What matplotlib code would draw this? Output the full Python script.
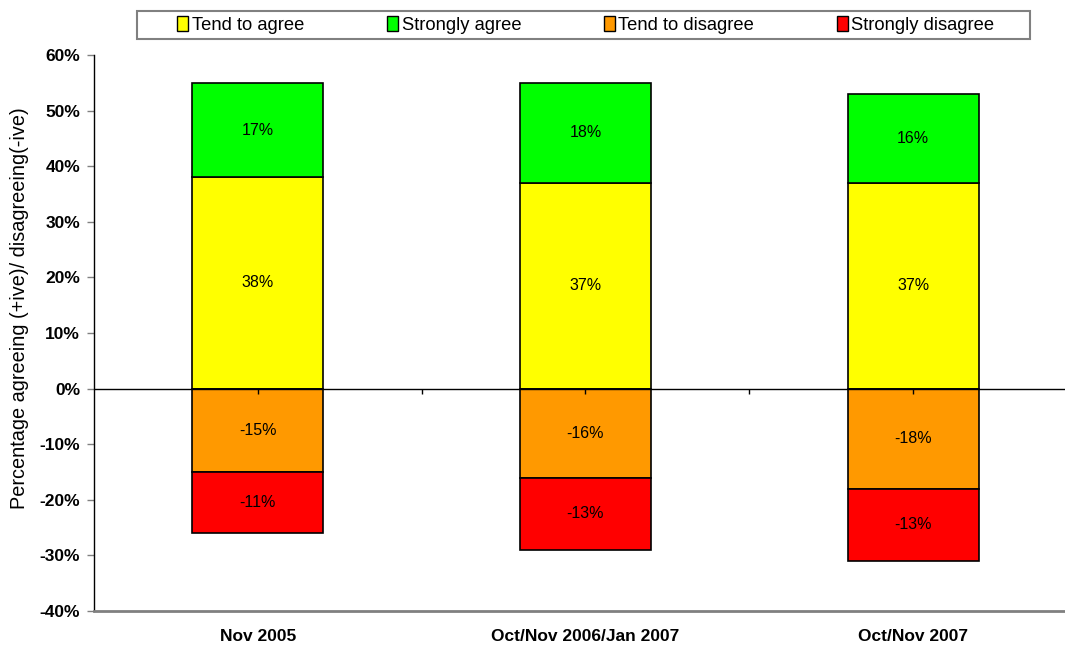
import matplotlib
matplotlib.use("Agg")
import matplotlib.pyplot as plt
from matplotlib.patches import Patch, Rectangle
from matplotlib.ticker import FuncFormatter
import numpy as np

plt.rcParams["font.family"] = ["Liberation Sans", "DejaVu Sans"]

# Survey waves and the share of respondents in each answer group
categories = ["Nov 2005", "Oct/Nov 2006/Jan 2007", "Oct/Nov 2007"]
tend_to_agree = [38, 37, 37]
strongly_agree = [17, 18, 16]
tend_to_disagree = [-15, -16, -18]
strongly_disagree = [-11, -13, -13]
y_ticks = [-40, -30, -20, -10, 0, 10, 20, 30, 40, 50, 60]

colors = {
    "Tend to agree": "#FFFF00",
    "Strongly agree": "#00FF00",
    "Tend to disagree": "#FF9900",
    "Strongly disagree": "#FF0000",
}

W, H = 1065, 646
fig = plt.figure(figsize=(W / 100, H / 100), dpi=100)
ax = fig.add_axes([94 / W, 1 - 611 / H, (W - 94) / W, (611 - 55) / H])

x = np.arange(len(categories))
bw = 0.4
edge = dict(edgecolor="black", linewidth=1.2)

ta = np.array(tend_to_agree)
sa = np.array(strongly_agree)
td = np.array(tend_to_disagree)
sd = np.array(strongly_disagree)

ax.bar(x, ta, bw, color=colors["Tend to agree"], **edge, zorder=2)
ax.bar(x, sa, bw, bottom=ta, color=colors["Strongly agree"], **edge, zorder=2)
ax.bar(x, td, bw, color=colors["Tend to disagree"], **edge, zorder=2)
ax.bar(x, sd, bw, bottom=td, color=colors["Strongly disagree"], **edge, zorder=2)

# Value labels in the middle of each segment
lab_kw = dict(ha="center", va="center", fontsize=11.5, color="black", zorder=4)
for i in range(len(categories)):
    ax.text(x[i], ta[i] / 2, f"{ta[i]}%", **lab_kw)
    ax.text(x[i], ta[i] + sa[i] / 2, f"{sa[i]}%", **lab_kw)
    ax.text(x[i], td[i] / 2, f"{td[i]}%", **lab_kw)
    ax.text(x[i], td[i] + sd[i] / 2, f"{sd[i]}%", **lab_kw)

# Zero line with small category ticks hanging below it
ax.axhline(0, color="black", linewidth=1.0, zorder=3)
tick_pos = np.arange(0, len(categories) - 0.5 + 0.01, 0.5)
ax.vlines(tick_pos, -0.9, 0, color="black", linewidth=1.0, zorder=3)

ax.set_xlim(-0.5, 2.5 - 12 / 327.75)
ax.set_ylim(-40, 60)
ax.set_yticks(y_ticks)
ax.yaxis.set_major_formatter(FuncFormatter(lambda v, p: f"{int(v)}%"))
ax.set_xticks(x)
ax.set_xticklabels(categories, fontweight="bold", fontsize=12.5)
ax.tick_params(axis="x", length=0, pad=13)
ax.tick_params(axis="y", length=5, width=1, color="#808080", pad=5, labelsize=12.5)
for lbl in ax.get_yticklabels():
    lbl.set_fontweight("bold")

for s in ["top", "right"]:
    ax.spines[s].set_visible(False)
ax.spines["left"].set_color("black")
ax.spines["left"].set_linewidth(1.0)
ax.spines["bottom"].set_color("#808080")
ax.spines["bottom"].set_linewidth(2.0)

fig.text(20 / W, 1 - 308 / H, "Percentage agreeing (+ive)/ disagreeing(-ive)",
         rotation=90, ha="center", va="center", fontsize=14.3)

# Legend: framed strip across the top
fig.patches.append(Rectangle((137 / W, 1 - 39 / H), (1030 - 137) / W, 28 / H,
                             transform=fig.transFigure, facecolor="white",
                             edgecolor="#808080", linewidth=1.5, zorder=0))
handles = [Patch(facecolor=c, edgecolor="black", linewidth=1.0, label=k)
           for k, c in colors.items()]
leg = fig.legend(handles=handles, loc="center", ncol=4,
                 bbox_to_anchor=(586 / W, 1 - 25 / H),
                 frameon=False, fontsize=13.2,
                 handlelength=0.6, handleheight=0.85, handletextpad=0.2,
                 columnspacing=4.5, borderaxespad=0, borderpad=0)

fig.savefig("out.png", dpi=100)
